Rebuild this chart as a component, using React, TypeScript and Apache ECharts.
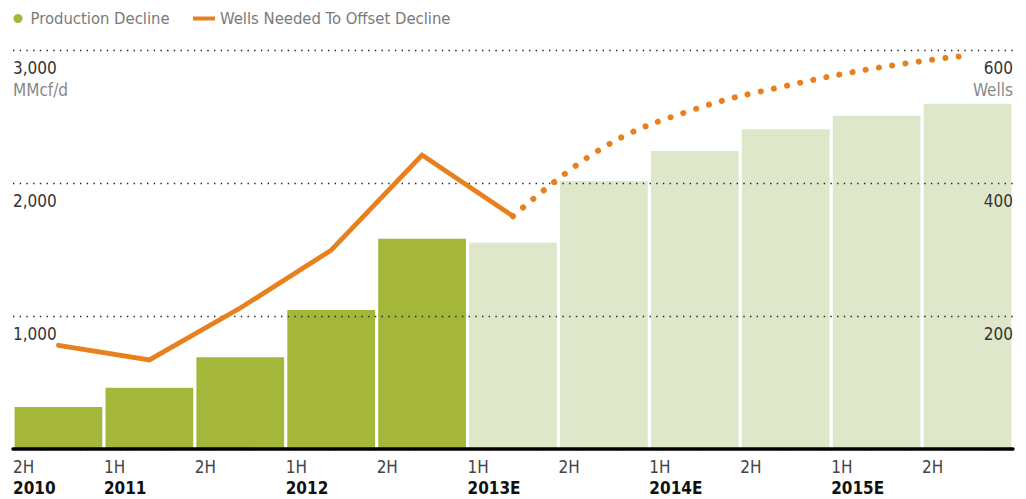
import React, { useEffect, useRef } from "react";
import * as echarts from "echarts";

const categories = ["2H 2010", "1H 2011", "2H 2011", "1H 2012", "2H 2012", "1H 2013E", "2H 2013E", "1H 2014E", "2H 2014E", "1H 2015E", "2H 2015E"];
const productionDecline = [315, 460, 690, 1045, 1580, 1550, 2015, 2240, 2405, 2505, 2595];
const wellsActual: (number | string)[] = [156, 134, 212, 299, 442, 350, "-", "-", "-", "-", "-"];
const wellsEstimate: (number | string)[] = ["-", "-", "-", "-", "-", 350, 454, 511, 546, 573, 592];
const halfLabels = ["2H", "1H", "2H", "1H", "2H", "1H", "2H", "1H", "2H", "1H", "2H", ""];
const yearLabels = ["2010", "2011", "", "2012", "", "2013E", "", "2014E", "", "2015E", "", ""];
const estimateStart = 5;

const FONT = "'Liberation Sans Narrow', 'DejaVu Sans Condensed', 'Roboto Condensed', 'Liberation Sans', sans-serif";
const FS = 16.5;
const DARK_GREEN = "#A4B73A";
const LIGHT_GREEN = "#DFE7CB";
const ORANGE = "#E8801E";

export default function App() {
  const ref = useRef<HTMLDivElement>(null);
  useEffect(() => {
    if (!ref.current) return;
    const chart = echarts.init(ref.current, null, { renderer: "svg" });
    const gridDots = { color: "#222", width: 1.4, type: [1.4, 5.3] as any };
    chart.setOption({
      animation: false,
      textStyle: { fontFamily: FONT },
      grid: { left: 13, right: 13, top: 50, bottom: 50, containLabel: false, outerBoundsMode: "none" },
      legend: [
        {
          left: 8.5, top: 5, itemWidth: 9, itemHeight: 9,
          data: [{ name: "Production Decline", icon: "circle" }],
          textStyle: { fontFamily: FONT, fontSize: FS, color: "#7a7a7a", padding: [0, 0, 0, 3] },
        },
        {
          left: 188, top: 5, itemWidth: 22, itemHeight: 4,
          data: [{ name: "Wells Needed To Offset Decline", icon: "rect" }],
          textStyle: { fontFamily: FONT, fontSize: FS, color: "#7a7a7a" },
        },
      ],
      xAxis: [
        {
          type: "category",
          data: categories,
          position: "bottom",
          axisLine: { show: true, onZero: false, lineStyle: { color: "#000", width: 3.5 } },
          axisTick: { show: false },
          axisLabel: { show: false },
          z: 6,
        },
        {
          type: "category",
          data: halfLabels.map((h, i) => `{h|${h || " "}}\n{y|${yearLabels[i] || " "}}`),
          position: "bottom",
          boundaryGap: false,
          axisLine: { show: false, onZero: false },
          axisTick: { show: false },
          axisLabel: {
            show: true,
            interval: 0,
            align: "left",
            margin: 6,
            fontFamily: FONT,
            rich: {
              h: { fontFamily: FONT, fontSize: FS + 0.5, color: "#444", lineHeight: 23 },
              y: { fontFamily: FONT, fontSize: FS + 0.5, color: "#111", fontWeight: "bold", lineHeight: 20 },
            },
          },
        },
      ],
      yAxis: [
        {
          type: "value",
          min: 0, max: 3000, interval: 1000,
          position: "left",
          z: 5,
          axisLine: { show: false },
          axisTick: { show: false },
          splitLine: { show: true, lineStyle: gridDots },
          axisLabel: {
            inside: true,
            margin: 0,
            align: "left",
            verticalAlign: "top",
            padding: [7, 0, 0, 0],
            fontFamily: FONT,
            fontSize: FS + 0.5,
            color: "#333",
            lineHeight: 22,
            formatter: (v: number) => {
              if (v === 0) return "";
              const s = v.toLocaleString("en-US");
              return v === 3000 ? `${s}\n{u|MMcf/d}` : s;
            },
            rich: { u: { fontFamily: FONT, fontSize: FS + 0.5, color: "#888", lineHeight: 22 } },
          },
        },
        {
          type: "value",
          min: 0, max: 600, interval: 200,
          position: "right",
          z: 5,
          axisLine: { show: false },
          axisTick: { show: false },
          splitLine: { show: false },
          axisLabel: {
            inside: true,
            margin: 0,
            align: "right",
            verticalAlign: "top",
            padding: [7, 0, 0, 0],
            fontFamily: FONT,
            fontSize: FS + 0.5,
            color: "#333",
            lineHeight: 22,
            formatter: (v: number) => {
              if (v === 0) return "";
              return v === 600 ? `${v}\n{u|Wells}` : `${v}`;
            },
            rich: { u: { fontFamily: FONT, fontSize: FS + 0.5, color: "#888", lineHeight: 22, align: "right" } },
          },
        },
      ],
      series: [
        {
          name: "Production Decline",
          type: "bar",
          xAxisIndex: 0,
          yAxisIndex: 0,
          barCategoryGap: "3.5%",
          itemStyle: { color: DARK_GREEN },
          data: productionDecline.map((v, i) => ({
            value: v,
            itemStyle: { color: i < estimateStart ? DARK_GREEN : LIGHT_GREEN },
          })),
          z: 2,
        },
        {
          name: "Wells Needed To Offset Decline",
          type: "line",
          xAxisIndex: 0,
          yAxisIndex: 1,
          color: ORANGE,
          data: wellsActual,
          symbol: "none",
          lineStyle: { color: ORANGE, width: 4.8, cap: "round", join: "miter" },
          z: 8,
        },
        {
          name: "Wells Estimate",
          type: "line",
          xAxisIndex: 0,
          yAxisIndex: 1,
          color: ORANGE,
          data: wellsEstimate,
          symbol: "none",
          smooth: 0.4,
          lineStyle: { color: ORANGE, width: 6, type: [0.1, 13.3], cap: "round" },
          z: 8,
        },
      ],
    });
    return () => chart.dispose();
  }, []);
  return (
    <div
      ref={ref}
      style={{ position: "fixed", left: 0, top: 0, width: 1026, height: 499, background: "#fff" }}
    />
  );
}
